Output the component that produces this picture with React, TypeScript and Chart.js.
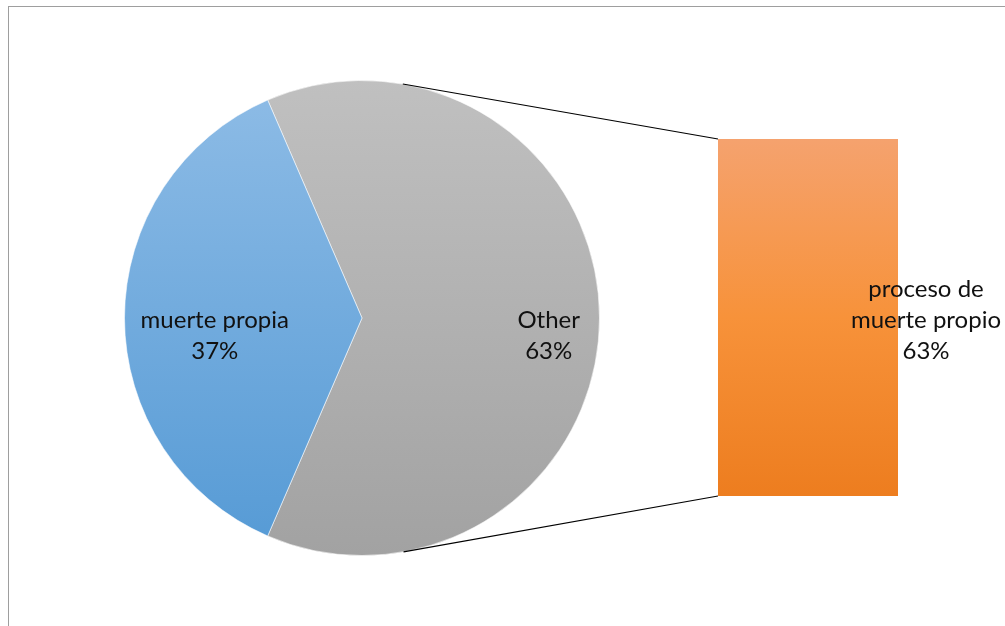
import React, { useEffect, useRef } from 'react';
import { Chart, registerables } from 'chart.js';

Chart.register(...registerables);

// ---- data ----
const pieLabels = ['Other', 'muerte propia'];
const pieValues = [63, 37];
const barLabels = ['proceso de muerte propio'];
const barValues = [63];
const barLabelLines = ['proceso de', 'muerte propio'];
const barPercent = ['63%'];

// ---- styles ----
const FONT = '24px Lato';
const TEXT = '#111111';
const pieGrad = [
  ['#C0C0C0', '#A2A2A2'],
  ['#8EBCE6', '#559AD5'],
];
const barGrad = ['#F5A26E', '#F7923A', '#ED7D1F'];
const labelFactor = [0.786, 0.62];

function drawLines(ctx: CanvasRenderingContext2D, lines: string[], cx: number, cy: number) {
  ctx.save();
  ctx.font = FONT;
  ctx.fillStyle = TEXT;
  ctx.textAlign = 'center';
  ctx.textBaseline = 'alphabetic';
  const n = lines.length;
  lines.forEach((t, j) => {
    ctx.fillText(t, cx, cy + 41 - 31 * (n - 1 - j));
  });
  ctx.restore();
}

export default function App() {
  const pieRef = useRef<HTMLCanvasElement>(null);
  const barRef = useRef<HTMLCanvasElement>(null);

  useEffect(() => {
    const total = pieValues.reduce((a, b) => a + b, 0);

    const pieLabelPlugin = {
      id: 'pieLabels',
      afterDatasetsDraw(chart: any) {
        const meta = chart.getDatasetMeta(0);
        meta.data.forEach((el: any, i: number) => {
          const p = el.getProps(['x', 'y', 'startAngle', 'endAngle', 'outerRadius'], true);
          const mid = (p.startAngle + p.endAngle) / 2;
          const cx = p.x + Math.cos(mid) * p.outerRadius * labelFactor[i];
          const cy = p.y + Math.sin(mid) * p.outerRadius * labelFactor[i];
          const pct = Math.round((pieValues[i] / total) * 100) + '%';
          drawLines(chart.ctx, [pieLabels[i], pct], cx, cy);
        });
      },
    };

    const pie = new Chart(pieRef.current!, {
      type: 'pie',
      data: {
        labels: pieLabels,
        datasets: [
          {
            data: pieValues,
            backgroundColor: (c: any) => {
              const chart = c.chart;
              const a = chart.chartArea;
              const cols = pieGrad[c.dataIndex] || pieGrad[0];
              if (!a) return cols[1];
              const g = chart.ctx.createLinearGradient(0, a.top, 0, a.bottom);
              g.addColorStop(0, cols[0]);
              g.addColorStop(1, cols[1]);
              return g;
            },
            borderColor: 'rgba(255,255,255,0.55)',
            borderWidth: 1,
            hoverBorderWidth: 1,
          },
        ],
      },
      options: {
        responsive: false,
        animation: false,
        events: [],
        rotation: 90 - (pieValues[0] / total) * 180,
        layout: { padding: { left: 124, right: 405, top: 80, bottom: 70 } },
        plugins: { legend: { display: false }, tooltip: { enabled: false }, title: { display: false } },
      },
      plugins: [pieLabelPlugin],
    } as any);

    const connectorPlugin = {
      id: 'connectors',
      afterDatasetsDraw(chart: any) {
        const ctx = chart.ctx as CanvasRenderingContext2D;
        const bar = chart.getDatasetMeta(0).data[0].getProps(['x', 'y', 'base', 'width'], true);
        const left = bar.x - bar.width / 2;
        const right = bar.x + bar.width / 2;
        const top = Math.min(bar.y, bar.base);
        const bottom = Math.max(bar.y, bar.base);
        const arc = pie.getDatasetMeta(0).data[0].getProps(['x', 'y', 'outerRadius'], true) as any;
        const tangent = (px: number, py: number, sign: number) => {
          const d = Math.hypot(px - arc.x, py - arc.y);
          const ang = Math.atan2(py - arc.y, px - arc.x);
          const off = Math.acos(arc.outerRadius / d);
          const a = ang + sign * off;
          return [arc.x + Math.cos(a) * arc.outerRadius, arc.y + Math.sin(a) * arc.outerRadius];
        };
        const t1 = tangent(left, top, -1);
        const t2 = tangent(left, bottom, 1);
        ctx.save();
        ctx.strokeStyle = '#000000';
        ctx.lineWidth = 1.2;
        ctx.beginPath();
        ctx.moveTo(t1[0], t1[1]);
        ctx.lineTo(left, top);
        ctx.moveTo(t2[0], t2[1]);
        ctx.lineTo(left, bottom);
        ctx.stroke();
        ctx.restore();
        const cy = (top + bottom) / 2;
        drawLines(ctx, [...barLabelLines, barPercent[0]], right + 28, cy);
      },
    };

    const barChart = new Chart(barRef.current!, {
      type: 'bar',
      data: {
        labels: barLabels,
        datasets: [
          {
            data: barValues,
            backgroundColor: (c: any) => {
              const chart = c.chart;
              const a = chart.chartArea;
              if (!a) return barGrad[1];
              const g = chart.ctx.createLinearGradient(0, a.top, 0, a.bottom);
              g.addColorStop(0, barGrad[0]);
              g.addColorStop(0.5, barGrad[1]);
              g.addColorStop(1, barGrad[2]);
              return g;
            },
            borderWidth: 0,
            barPercentage: 1,
            categoryPercentage: 1,
          },
        ],
      },
      options: {
        responsive: false,
        animation: false,
        events: [],
        layout: { padding: { left: 718, right: 107, top: 139, bottom: 130 } },
        scales: {
          x: { display: false },
          y: { display: false, min: 0, max: barValues.reduce((a, b) => a + b, 0) },
        },
        plugins: { legend: { display: false }, tooltip: { enabled: false }, title: { display: false } },
      },
      plugins: [connectorPlugin],
    } as any);

    return () => {
      barChart.destroy();
      pie.destroy();
    };
  }, []);

  const canvasStyle: React.CSSProperties = {
    position: 'fixed',
    left: 0,
    top: 0,
    width: 1005,
    height: 626,
  };

  return (
    <div>
      <div
        style={{
          position: 'fixed',
          left: 8,
          top: 6,
          width: 1100,
          height: 700,
          borderTop: '1px solid #9E9E9E',
          borderLeft: '1px solid #9E9E9E',
          boxSizing: 'border-box',
        }}
      />
      <canvas ref={pieRef} width={1005} height={626} style={canvasStyle} />
      <canvas ref={barRef} width={1005} height={626} style={canvasStyle} />
    </div>
  );
}
